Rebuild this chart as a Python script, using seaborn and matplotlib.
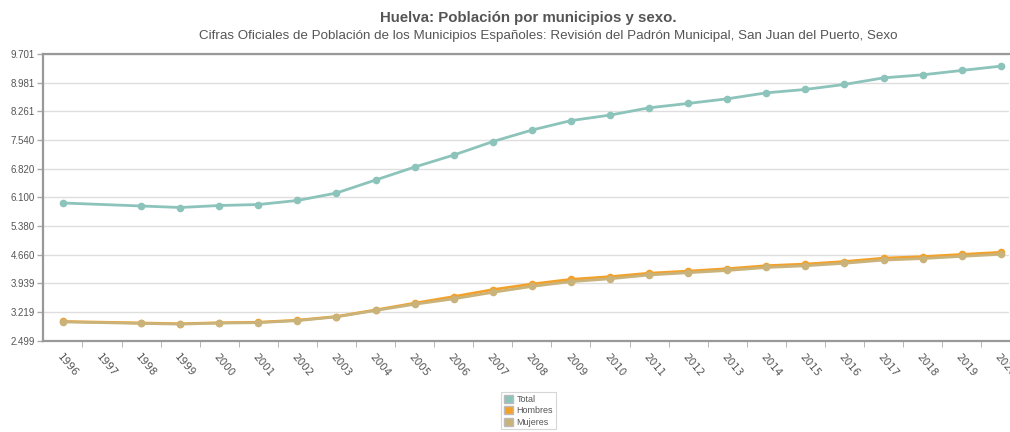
import pandas as pd
import matplotlib
matplotlib.use("Agg")
import matplotlib.pyplot as plt
import seaborn as sns
from matplotlib.patches import Patch
from matplotlib.ticker import FixedLocator, FuncFormatter

# Data (1997 not present in the padrón)
years = [1996, 1998, 1999, 2000, 2001, 2002, 2003, 2004, 2005, 2006, 2007, 2008,
         2009, 2010, 2011, 2012, 2013, 2014, 2015, 2016, 2017, 2018, 2019, 2020]
total = [5960, 5885, 5847, 5897, 5922, 6023, 6211, 6537, 6863, 7164, 7502, 7791,
         8029, 8167, 8350, 8460, 8576, 8726, 8811, 8937, 9102, 9178, 9288, 9396]
hombres = [2985, 2948, 2928, 2953, 2966, 3017, 3110, 3275, 3445, 3610, 3785, 3925,
           4043, 4110, 4197, 4250, 4310, 4385, 4427, 4490, 4575, 4613, 4668, 4722]
mujeres = [2975, 2937, 2919, 2944, 2956, 3006, 3101, 3262, 3418, 3554, 3717, 3866,
           3986, 4057, 4153, 4210, 4266, 4341, 4384, 4447, 4527, 4565, 4620, 4674]
tick_years = list(range(1996, 2021))
y_ticks = [2499, 3219, 3939, 4660, 5380, 6100, 6820, 7540, 8261, 8981, 9701]
series_names = ["Total", "Hombres", "Mujeres"]
colors = {"Total": "#8cc4bb", "Hombres": "#f2a22c", "Mujeres": "#c9b37b"}

df = pd.concat([
    pd.DataFrame({"year": years, "value": total, "serie": "Total"}),
    pd.DataFrame({"year": years, "value": hombres, "serie": "Hombres"}),
    pd.DataFrame({"year": years, "value": mujeres, "serie": "Mujeres"}),
])

sns.set_style("white")
plt.rcParams["font.family"] = ["Liberation Sans", "DejaVu Sans"]

fig = plt.figure(figsize=(10.10, 4.32), dpi=100)
ax = fig.add_axes([0.0426, 0.211, 0.956, 0.664])

# Hombres below, Mujeres over it, Total on top
for name in ["Hombres", "Mujeres", "Total"]:
    sub = df[df["serie"] == name]
    sns.lineplot(data=sub, x="year", y="value", ax=ax, color=colors[name],
                 marker="o", markersize=5.5, markeredgewidth=0, linewidth=2,
                 legend=False, zorder=3)

ax.set_xlim(1995.49, 2020.2)
ax.set_ylim(2499, 9701)
ax.set_xlabel("")
ax.set_ylabel("")

ax.yaxis.set_major_locator(FixedLocator(y_ticks))
ax.yaxis.set_major_formatter(FuncFormatter(lambda v, p: f"{int(round(v)):,}".replace(",", ".")))
ax.grid(axis="y", color="#dedede", linewidth=1)
ax.tick_params(axis="y", labelsize=7, labelcolor="#555555", color="#aaaaaa",
               length=4, width=1, left=True, pad=2)

ax.set_xticks(tick_years)
ax.set_xticklabels([str(y) for y in tick_years], rotation=-50, ha="left",
                   va="top", rotation_mode="anchor", fontsize=7.5, color="#555555",
                   family="DejaVu Sans")
ax.tick_params(axis="x", length=0, pad=8)
ax.set_xticks([y + 0.5 for y in tick_years[:-1]], minor=True)
ax.tick_params(axis="x", which="minor", length=4, color="#aaaaaa", bottom=True)

for side in ["left", "bottom", "top"]:
    ax.spines[side].set_color("#999999")
    ax.spines[side].set_linewidth(1.6)
ax.spines["right"].set_visible(False)

fig.text(0.523, 0.958, "Huelva: Población por municipios y sexo.", ha="center",
         va="center", fontsize=10.8, fontweight="bold", color="#555555")
fig.text(0.543, 0.917, "Cifras Oficiales de Población de los Municipios Españoles: "
         "Revisión del Padrón Municipal, San Juan del Puerto, Sexo",
         ha="center", va="center", fontsize=9.6, color="#555555")

handles = [Patch(facecolor=colors[n], edgecolor="#bbbbbb", label=n) for n in series_names]
leg = fig.legend(handles=handles, loc="upper center", bbox_to_anchor=(0.523, 0.103),
                 ncol=1, fontsize=6.5, frameon=True, handlelength=1.0, handleheight=1.0,
                 handletextpad=0.4, borderpad=0.3, labelspacing=0.25, fancybox=False)
leg.get_frame().set_edgecolor("#cccccc")
leg.get_frame().set_linewidth(0.8)
for t in leg.get_texts():
    t.set_color("#555555")

fig.savefig("out.png", dpi=100)
